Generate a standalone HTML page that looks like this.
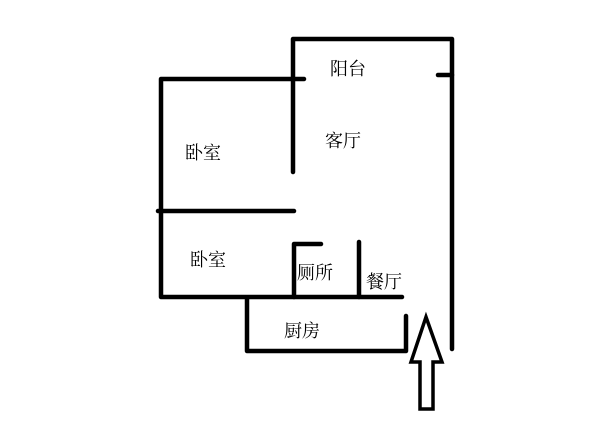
<!DOCTYPE html>
<html><head><meta charset="utf-8"><style>
html,body{margin:0;padding:0;background:#fff;}
svg{display:block;}
text{font-family:"Liberation Serif","Noto Serif CJK SC",serif;font-size:18px;fill:#000;}
</style></head><body>
<svg width="601" height="423" viewBox="0 0 601 423" xmlns="http://www.w3.org/2000/svg">
<g stroke="#000" stroke-width="4.5" fill="none" stroke-linecap="round" stroke-linejoin="round">
<polyline points="293,172 293,39 452,39 452,349"/>
<line x1="438" y1="75" x2="452" y2="75"/>
<polyline points="304,79 161,79 161,297 402,297"/>
<line x1="158" y1="211" x2="294" y2="211"/>
<polyline points="294,297 294,244 321,244"/>
<line x1="359" y1="242" x2="359" y2="297"/>
<polyline points="247,298 247,351 406,351 406,316"/>
</g>
<polygon points="426,317 442,362 433,362 433,409 420,409 420,362 411,362" fill="none" stroke="#000" stroke-width="3.5" stroke-linejoin="miter"/>
<text x="330" y="75">阳台</text>
<text x="325" y="147">客厅</text>
<text x="185" y="159">卧室</text>
<text x="190" y="266">卧室</text>
<text x="297" y="279">厕所</text>
<text x="366" y="288">餐厅</text>
<text x="284" y="337">厨房</text>
</svg>
</body></html>
